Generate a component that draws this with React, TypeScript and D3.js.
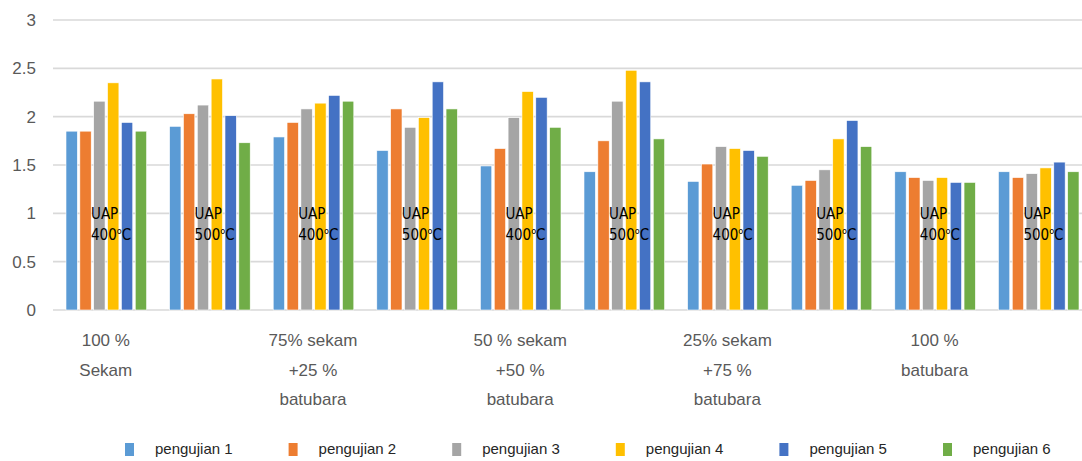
import React from "react";
import * as d3 from "d3";

// Fuel mixes (each tested with steam at 400 °C and 500 °C)
const mixLabels: string[][] = [
  ["100 %", "Sekam"],
  ["75% sekam", "+25 %", "batubara"],
  ["50 % sekam", "+50 %", "batubara"],
  ["25% sekam", "+75 %", "batubara"],
  ["100 %", "batubara"],
];
const temps = ["400", "500"];
const categories = mixLabels.flatMap((m) => temps.map((t) => `${m.join(" ")} | UAP ${t}`));

const seriesNames = ["pengujian 1", "pengujian 2", "pengujian 3", "pengujian 4", "pengujian 5", "pengujian 6"];
const pengujian1 = [1.85, 1.9, 1.79, 1.65, 1.49, 1.43, 1.33, 1.29, 1.43, 1.43];
const pengujian2 = [1.85, 2.03, 1.94, 2.08, 1.67, 1.75, 1.51, 1.34, 1.37, 1.37];
const pengujian3 = [2.16, 2.12, 2.08, 1.89, 1.99, 2.16, 1.69, 1.45, 1.34, 1.41];
const pengujian4 = [2.35, 2.39, 2.14, 1.99, 2.26, 2.48, 1.67, 1.77, 1.37, 1.47];
const pengujian5 = [1.94, 2.01, 2.22, 2.36, 2.2, 2.36, 1.65, 1.96, 1.32, 1.53];
const pengujian6 = [1.85, 1.73, 2.16, 2.08, 1.89, 1.77, 1.59, 1.69, 1.32, 1.43];
const seriesValues = [pengujian1, pengujian2, pengujian3, pengujian4, pengujian5, pengujian6];

const yTicks = [0, 0.5, 1, 1.5, 2, 2.5, 3];
const colors = ["#5B9BD5", "#ED7D31", "#A5A5A5", "#FFC000", "#4472C4", "#70AD47"];

const W = 1082;
const H = 461;

export default function App() {
  const x0 = d3.scaleBand<string>().domain(categories).range([54, 1090]).padding(0);
  const x1 = d3
    .scaleBand<string>()
    .domain(seriesNames)
    .range([12, x0.bandwidth() - 11])
    .paddingInner(0.18)
    .paddingOuter(0);
  const y = d3.scaleLinear().domain([0, 3]).range([310, 20]);

  const axisFont = "'Liberation Sans', Arial, sans-serif";
  const narrowFont = "'Liberation Sans Narrow', 'DejaVu Sans Condensed', sans-serif";

  return (
    <svg
      width={W}
      height={H}
      style={{ position: "absolute", left: 0, top: 0, background: "#fff" }}
    >
      {/* horizontal gridlines and value labels */}
      {yTicks.map((t) => (
        <g key={t}>
          <line x1={53} x2={W} y1={y(t)} y2={y(t)} stroke="#d9d9d9" strokeWidth={1.6} />
          <text
            x={36}
            y={y(t) + 6}
            textAnchor="end"
            fontFamily={axisFont}
            fontSize={17}
            fill="#595959"
          >
            {t}
          </text>
        </g>
      ))}

      {/* bars */}
      {categories.map((c, ci) => (
        <g key={c} transform={`translate(${x0(c)},0)`}>
          {seriesNames.map((s, si) => (
            <rect
              key={s}
              x={x1(s)}
              y={y(seriesValues[si][ci])}
              width={x1.bandwidth()}
              height={y(0) - y(seriesValues[si][ci])}
              fill={colors[si]}
              stroke="#ffffff"
              strokeWidth={0.6}
            />
          ))}
        </g>
      ))}

      {/* steam temperature annotations */}
      {categories.map((c, ci) => {
        const t = temps[ci % temps.length];
        const lx = (x0(c) as number) + 37;
        const ly = y(1) + 6;
        return (
          <g key={`uap-${c}`} fontFamily={narrowFont} fontSize={15} fill="#000">
            <text x={lx} y={ly}>UAP</text>
            <text x={lx} y={ly + 21}>
              {t}
              <tspan fontSize={9} dy={-6}>o</tspan>
              <tspan dy={6}>C</tspan>
            </text>
          </g>
        );
      })}

      {/* category labels on the first band of each mix */}
      {mixLabels.map((lines, mi) => {
        const c = categories[mi * temps.length];
        const cx = (x0(c) as number) + x0.bandwidth() / 2;
        return (
          <text
            key={`cat-${mi}`}
            textAnchor="middle"
            fontFamily={axisFont}
            fontSize={17}
            fill="#595959"
          >
            {lines.map((l, li) => (
              <tspan key={li} x={cx} y={346 + li * 29.5}>
                {l}
              </tspan>
            ))}
          </text>
        );
      })}

      {/* legend */}
      {seriesNames.map((s, si) => {
        const lx = 125 + si * 163.6;
        return (
          <g key={`leg-${s}`}>
            <rect x={lx} y={443} width={9} height={13} fill={colors[si]} />
            <text
              x={lx + 30}
              y={454}
              fontFamily={axisFont}
              fontSize={15}
              fill="#262626"
            >
              {s}
            </text>
          </g>
        );
      })}
    </svg>
  );
}
